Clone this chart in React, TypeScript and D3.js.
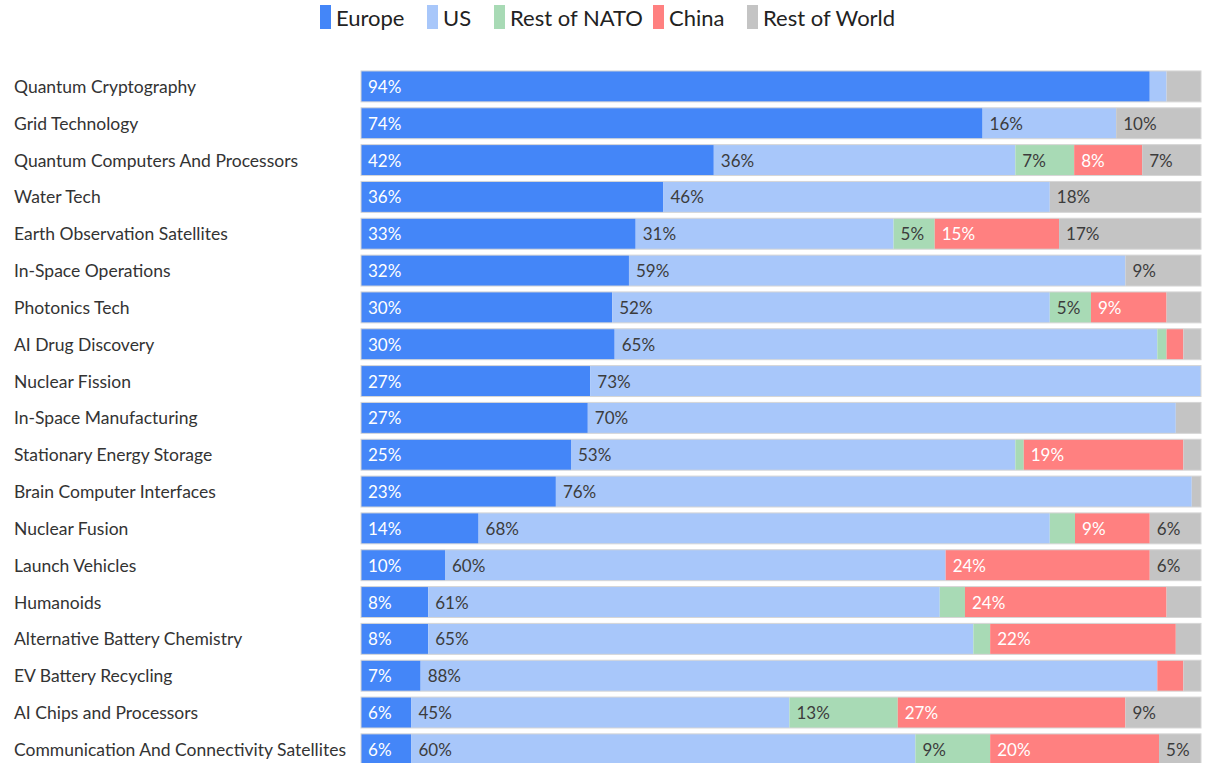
import React from "react";
import * as d3 from "d3";

const categories = [
  "Quantum Cryptography",
  "Grid Technology",
  "Quantum Computers And Processors",
  "Water Tech",
  "Earth Observation Satellites",
  "In-Space Operations",
  "Photonics Tech",
  "AI Drug Discovery",
  "Nuclear Fission",
  "In-Space Manufacturing",
  "Stationary Energy Storage",
  "Brain Computer Interfaces",
  "Nuclear Fusion",
  "Launch Vehicles",
  "Humanoids",
  "Alternative Battery Chemistry",
  "EV Battery Recycling",
  "AI Chips and Processors",
  "Communication And Connectivity Satellites",
];

const seriesNames = ["Europe", "US", "Rest of NATO", "China", "Rest of World"];

const europe = [93.9, 74.0, 42.0, 36.0, 32.7, 31.9, 29.9, 30.2, 27.3, 27.0, 25.0, 23.2, 14.0, 10.0, 8.0, 8.0, 7.1, 6.0, 6.0];
const us = [2.0, 15.9, 35.9, 46.0, 30.7, 59.1, 52.1, 64.6, 72.7, 70.0, 52.9, 75.7, 68.0, 59.6, 60.9, 64.9, 87.7, 45.0, 60.0];
const restOfNato = [0, 0, 7.0, 0, 4.9, 0, 4.9, 1.1, 0, 0, 1.0, 0, 3.0, 0, 3.0, 2.0, 0, 12.9, 8.9];
const china = [0, 0, 8.1, 0, 14.8, 0, 9.0, 2.0, 0, 0, 19.0, 0, 8.9, 24.3, 24.0, 22.1, 3.1, 27.1, 20.1];
const restOfWorld = [4.1, 10.1, 7.0, 18.0, 16.9, 9.0, 4.1, 2.1, 0, 3.0, 2.1, 1.1, 6.1, 6.1, 4.1, 3.0, 2.1, 9.0, 5.0];

const colors = ["#4486f8", "#a8c7fa", "#a8dab5", "#ff8080", "#c4c4c4"];
const labelColors = ["#ffffff", "#3c3c3c", "#3c3c3c", "#ffffff", "#3c3c3c"];

const W = 1207;
const H = 763;
const FONT = "'Source Sans Pro', Lato, 'Noto Sans', sans-serif";

export default function App() {
  const seriesArrays = [europe, us, restOfNato, china, restOfWorld];
  const rows = categories.map((c, i) => {
    const r: any = { category: c };
    seriesNames.forEach((s, k) => (r[s] = seriesArrays[k][i]));
    return r;
  });
  const stack = d3.stack<any>().keys(seriesNames);
  const stacked = stack(rows);

  const x = d3.scaleLinear().domain([0, 100]).range([361, 1201]);
  const y = d3
    .scaleBand<string>()
    .domain(categories)
    .range([68, 68 + 19 * 36.83])
    .paddingInner(0.16)
    .paddingOuter(0.08);

  const legendItems = [
    { name: "Europe", x: 320 },
    { name: "US", x: 427 },
    { name: "Rest of NATO", x: 494 },
    { name: "China", x: 653 },
    { name: "Rest of World", x: 747 },
  ];

  return (
    <svg
      width={W}
      height={H}
      style={{ position: "absolute", left: 0, top: 0, overflow: "hidden", background: "#fff" }}
      fontFamily={FONT}
    >
      <g>
        {legendItems.map((l, i) => (
          <g key={l.name} transform={`translate(${l.x},5)`}>
            <rect x={0} y={0} width={11} height={24} fill={colors[i]} />
            <text x={16} y={12} dominantBaseline="central" fontSize={22} fill="#222">
              {l.name}
            </text>
          </g>
        ))}
      </g>
      <g>
        {categories.map((c) => (
          <text
            key={c}
            x={14}
            y={(y(c) as number) + y.bandwidth() / 2}
            dominantBaseline="central"
            fontSize={17.5}
            fill="#333"
          >
            {c}
          </text>
        ))}
      </g>
      {stacked.map((layer, k) => (
        <g key={layer.key}>
          {layer.map((d, i) => {
            const x0 = x(d[0]);
            const x1 = x(d[1]);
            const w = x1 - x0;
            if (w <= 0) return null;
            return (
              <rect
                key={i}
                x={x0}
                y={y(categories[i]) as number}
                width={w}
                height={y.bandwidth()}
                fill={colors[k]}
              />
            );
          })}
        </g>
      ))}
      <g>
        {categories.map((c) => (
          <rect
            key={c}
            x={x(0)}
            y={y(c) as number}
            width={x(100) - x(0)}
            height={y.bandwidth()}
            fill="none"
            stroke="#d6d6d6"
            strokeWidth={1}
          />
        ))}
      </g>
      {stacked.map((layer, k) => (
        <g key={"l" + layer.key}>
          {layer.map((d, i) => {
            const v = d[1] - d[0];
            if (Math.round(v) < 5) return null;
            return (
              <text
                key={i}
                x={x(d[0]) + 7}
                y={(y(categories[i]) as number) + y.bandwidth() / 2}
                dominantBaseline="central"
                fontSize={17}
                fill={labelColors[k]}
              >
                {Math.round(v)}%
              </text>
            );
          })}
        </g>
      ))}
    </svg>
  );
}
